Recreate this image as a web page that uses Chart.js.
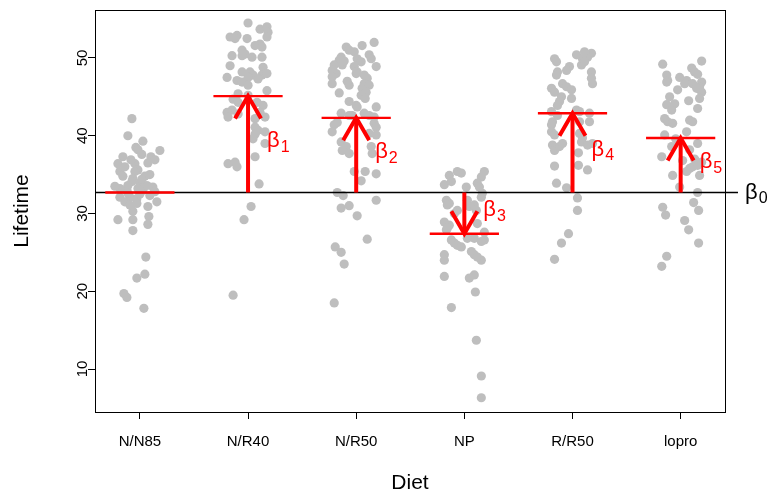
<!DOCTYPE html>
<html><head><meta charset="utf-8">
<script src="https://cdn.jsdelivr.net/npm/chart.js@4.4.1/dist/chart.umd.min.js"></script>
<style>html,body{margin:0;padding:0;background:#fff}#wrap{width:772px;height:494px}</style>
</head><body><div id="wrap"><canvas id="c" width="772" height="494"></canvas></div>
<script>
const categories = ["N/N85","N/R40","N/R50","NP","R/R50","lopro"];
const yTicks = [10,20,30,40,50];
const groupMeans = [32.7,45.1,42.3,27.4,42.9,39.7];
const beta0 = 32.7;
const betaLabels = ["1","2","3","4","5"];

// jittered x positions (category index + jitter) and lifetimes
const xNN85 = [0.926,0.889,1.028,0.963,0.982,1.185,1.018,1.102,0.843,0.797,1.074,0.954,0.982,0.954,0.815,0.935,0.926,1.0,0.815,1.12,0.88,1.028,1.139,0.908,0.972,0.815,0.861,1.157,1.074,0.935,0.908,0.972,0.797,0.935,1.083,1.074,0.935,1.055,1.046,0.972,0.852,0.88,1.037,1.046,0.889,1.092,0.861,1.0,0.769,1.065,0.843,0.917,1.139,0.982,0.889,1.092,1.018];
const yNN85 = [42.2,40.0,39.3,38.5,38.2,38.1,37.6,37.3,37.3,36.4,36.5,36.4,35.6,35.4,35.4,34.5,34.1,33.9,33.2,33.4,33.1,33.0,32.8,32.1,31.9,32.1,31.5,31.5,30.9,30.3,31.1,31.3,29.2,29.2,29.6,28.6,27.8,24.4,22.2,21.7,19.7,19.2,17.8,34.8,33.6,35.0,36.0,32.5,33.5,33.6,34.8,36.9,36.9,33.2,32.6,32.3,34.4];

const xNR40 = [2.0,2.111,2.175,2.185,1.834,1.898,1.880,1.991,2.175,2.111,2.065,2.129,1.945,1.972,1.945,1.852,2.037,2.129,1.834,2.139,1.945,2.018,2.046,2.0,2.129,2.175,1.806,2.092,1.898,1.945,2.0,2.175,1.908,2.0,1.862,1.908,2.083,2.139,1.852,1.806,1.815,1.908,2.111,2.065,2.157,2.065,2.092,2.065,2.157,2.046,2.157,1.815,1.880,1.898,2.065,2.102,2.028,1.963,1.862];
const yNR40 = [54.5,53.7,54.0,53.3,52.7,52.9,52.5,52.5,52.7,51.8,51.6,51.4,51.0,50.5,50.3,50.3,50.1,50.1,49.0,48.8,48.2,48.2,47.8,47.5,47.8,48.0,47.5,47.3,47.1,46.9,46.5,45.8,45.4,45.2,44.7,44.3,44.3,43.9,43.3,43.0,42.4,42.8,43.0,42.2,42.4,41.1,40.7,40.2,40.5,39.6,39.0,36.4,36.6,36.0,37.3,33.8,30.9,29.2,19.5];

const xNR50 = [3.166,3.055,2.908,2.935,2.982,2.861,2.843,3.009,3.046,3.12,3.139,2.797,2.871,3.185,2.982,3.009,3.0,2.778,2.815,3.074,3.102,2.778,2.778,3.074,3.055,3.12,2.935,3.092,3.046,2.935,3.0,3.009,3.185,2.861,2.935,2.963,3.074,3.12,3.166,2.825,2.797,3.166,3.185,2.778,3.12,3.185,2.861,2.908,3.139,2.871,2.935,3.148,2.982,3.083,3.185,3.046,2.825,2.880,3.185,2.861,2.935,3.009,3.102,2.806,2.861,2.889,2.797,2.917,2.889,3.083,2.843];
const yNR50 = [52.0,51.6,51.4,51.0,50.8,50.1,49.7,49.9,49.5,50.4,49.9,49.1,49.1,48.9,48.9,48.2,48.0,48.4,48.0,47.8,47.4,47.6,46.7,46.7,46.1,46.5,46.5,45.6,45.2,44.4,43.9,43.7,43.7,42.9,42.6,42.6,42.9,42.6,42.4,41.7,41.4,41.6,41.1,40.5,40.3,40.1,39.2,38.6,38.6,38.1,37.7,37.7,35.4,35.4,35.1,34.2,32.7,32.3,31.7,30.7,31.0,29.7,26.7,25.7,25.0,23.5,18.5,47.0,49.6,44.8,45.5];

const xNP = [3.861,3.935,3.972,4.185,4.157,3.815,3.880,4.12,4.139,4.018,4.166,4.157,3.834,3.861,3.843,4.028,4.046,3.935,3.908,4.092,4.111,3.815,3.861,4.12,3.843,3.834,4.185,3.880,3.908,3.935,3.972,4.092,4.185,4.157,4.028,3.815,3.815,4.065,4.092,4.157,4.12,3.815,4.092,4.046,4.102,3.880,4.111,4.157,4.157];
const yNP = [34.9,35.4,35.2,35.4,34.7,33.7,34.1,33.9,33.4,33.4,32.6,32.1,31.7,31.3,31.1,31.7,30.9,30.4,30.0,31.1,30.4,28.9,28.5,28.7,28.1,27.9,27.6,26.6,26.2,25.9,25.7,26.8,26.6,26.4,26.8,24.7,24.0,25.1,24.7,24.0,24.4,21.9,22.1,21.7,19.9,17.9,13.7,9.1,6.3];

const xRR50 = [5.175,5.139,5.092,5.037,4.834,4.852,5.083,5.111,4.972,4.945,4.861,4.852,5.175,5.175,5.185,4.908,4.945,4.806,4.834,4.991,4.898,4.880,4.861,4.991,4.806,4.861,5.037,5.065,5.157,4.815,4.806,5.157,5.065,4.806,4.834,5.065,5.092,4.815,5.185,4.834,4.880,4.908,5.083,5.139,5.055,4.834,5.055,5.139,4.852,4.945,5.046,5.046,4.963,4.898,4.834,5.111];
const yRR50 = [50.6,50.1,49.9,50.4,49.9,49.5,49.1,49.5,48.9,48.4,48.2,47.8,48.2,47.4,46.7,46.7,46.3,46.1,45.6,45.9,45.0,44.4,43.9,44.8,43.1,42.6,43.3,43.1,42.9,41.8,41.4,41.8,41.8,40.5,40.1,40.3,39.7,38.8,39.0,38.1,38.6,39.0,39.2,38.8,37.8,36.1,36.2,35.6,33.9,33.3,32.0,30.4,27.4,26.2,24.1,50.8];

const xLopro = [6.194,5.834,6.102,6.129,6.157,5.871,5.880,5.871,6.055,6.037,6.194,6.175,6.111,6.148,5.972,6.194,6.074,5.871,5.945,5.917,6.157,5.852,5.880,5.926,6.083,6.111,6.055,5.852,6.157,5.917,5.825,5.926,6.083,6.111,6.157,6.175,6.055,5.991,6.157,6.12,6.166,5.834,5.861,6.037,6.074,6.166,5.871,5.825,6.129,6.194,6.018,5.954,6.175,5.991,5.898,6.083];
const yLopro = [49.6,49.2,48.7,48.2,47.9,47.8,47.1,46.9,47.1,46.7,46.9,46.3,46.7,46.1,45.9,45.6,44.5,44.0,44.1,43.3,43.5,42.2,41.8,41.6,42.0,41.8,40.5,40.1,39.0,38.6,37.3,34.9,35.8,36.0,36.2,34.9,35.4,33.4,32.7,31.4,30.4,30.8,29.8,29.1,27.9,26.2,24.5,23.2,37.0,36.6,36.8,39.6,44.8,47.5,45.0,38.2];

const groupsX = [xNN85,xNR40,xNR50,xNP,xRR50,xLopro];
const groupsY = [yNN85,yNR40,yNR50,yNP,yRR50,yLopro];

const FONT = "'Liberation Sans', Arial, Helvetica, sans-serif";
const datasets = groupsX.map((xs,i)=>({
  type:'scatter',
  data: xs.map((x,j)=>({x:x, y:groupsY[i][j]})),
  backgroundColor:'#BEBEBE', borderWidth:0, pointRadius:4.6, pointHoverRadius:4.6
}));

const overlay = {
  id:'overlay',
  afterDatasetsDraw(chart){
    const ctx = chart.ctx, xs = chart.scales.x, ys = chart.scales.y, ca = chart.chartArea;
    const yb = ys.getPixelForValue(beta0);
    ctx.save();
    ctx.strokeStyle = '#000'; ctx.lineWidth = 1.6;
    ctx.beginPath(); ctx.moveTo(ca.left, yb); ctx.lineTo(xs.getPixelForValue(6.53), yb); ctx.stroke();
    ctx.strokeStyle = '#FF0000'; ctx.lineWidth = 2.4;
    groupMeans.forEach((m,i)=>{
      const y = ys.getPixelForValue(m);
      ctx.beginPath(); ctx.moveTo(xs.getPixelForValue(i+1-0.32), y); ctx.lineTo(xs.getPixelForValue(i+1+0.32), y); ctx.stroke();
    });
    ctx.lineWidth = 4; ctx.lineCap = 'butt';
    for (let i=1;i<groupMeans.length;i++){
      const x = xs.getPixelForValue(i+1), yt = ys.getPixelForValue(groupMeans[i]);
      const dir = yt < yb ? 1 : -1;
      ctx.beginPath(); ctx.moveTo(x, yb); ctx.lineTo(x, yt); ctx.stroke();
      const L = 26, a = Math.PI/6;
      ctx.beginPath();
      ctx.moveTo(x - L*Math.sin(a), yt + dir*L*Math.cos(a));
      ctx.lineTo(x, yt);
      ctx.lineTo(x + L*Math.sin(a), yt + dir*L*Math.cos(a));
      ctx.stroke();
      const ly = (yb + yt)/2 - 3;
      ctx.fillStyle = '#FF0000'; ctx.textBaseline = 'middle'; ctx.textAlign = 'left';
      ctx.font = '22px ' + FONT;
      const lx = x + 19;
      ctx.fillText('\u03B2', lx, ly);
      const w = ctx.measureText('\u03B2').width;
      ctx.font = '16px ' + FONT;
      ctx.fillText(betaLabels[i-1], lx + w + 1, ly + 6);
    }
    ctx.fillStyle = '#000'; ctx.font = '22px ' + FONT;
    const bx = ca.right + 20;
    ctx.fillText('\u03B2', bx, yb);
    const w0 = ctx.measureText('\u03B2').width;
    ctx.font = '16px ' + FONT;
    ctx.fillText('0', bx + w0 + 1, yb + 6);
    ctx.strokeStyle = '#000'; ctx.lineWidth = 1;
    ctx.strokeRect(Math.round(ca.left)+0.5, Math.round(ca.top)+0.5, Math.round(ca.right-ca.left), Math.round(ca.bottom-ca.top));
    ctx.restore();
  }
};

new Chart(document.getElementById('c'), {
  data:{datasets:datasets},
  options:{
    responsive:false, animation:false, events:[],
    layout:{padding:{top:10,right:47,left:0,bottom:0}},
    plugins:{legend:{display:false}, tooltip:{enabled:false}},
    scales:{
      x:{type:'linear', min:0.585, max:6.41,
        afterBuildTicks:s=>{ s.ticks = categories.map((c,i)=>({value:i+1})); },
        afterFit:s=>{ s.height = 82; },
        ticks:{autoSkip:false, maxRotation:0, color:'#000', padding:14, font:{family:FONT,size:15},
          callback:v=>categories[Math.round(v)-1]},
        grid:{display:true, drawOnChartArea:false, drawTicks:true, tickLength:7, color:'#000', lineWidth:1},
        border:{display:false},
        title:{display:true, text:'Diet', color:'#000', font:{family:FONT,size:21,lineHeight:1}, padding:{top:0,bottom:0}}
      },
      y:{type:'linear', min:4.47, max:56.17,
        afterBuildTicks:s=>{ s.ticks = yTicks.map(v=>({value:v})); },
        afterFit:s=>{ s.width = 95; },
        ticks:{minRotation:90, maxRotation:90, crossAlign:'center', padding:-3, color:'#000', font:{family:FONT,size:15}},
        grid:{display:true, drawOnChartArea:false, drawTicks:true, tickLength:7, color:'#000', lineWidth:1},
        border:{display:false},
        title:{display:true, text:'Lifetime', color:'#000', font:{family:FONT,size:21,lineHeight:1}, padding:{top:12,bottom:0}}
      }
    }
  },
  plugins:[overlay]
});
</script></body></html>
